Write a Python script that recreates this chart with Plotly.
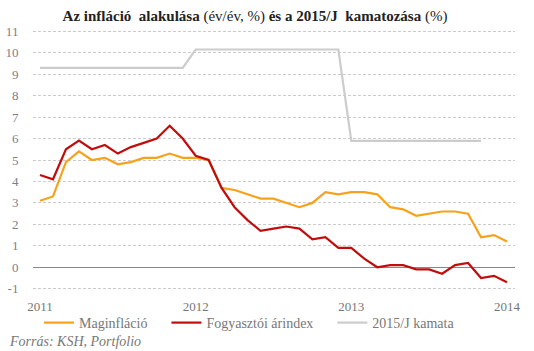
import plotly.graph_objects as go

months = list(range(37))  # Nov 2011 .. Nov 2014 (monthly index)
tick_positions = [0, 12, 24, 36]
tick_labels = ["2011", "2012", "2013", "2014"]

maginflacio = [3.1, 3.3, 4.9, 5.4, 5.0, 5.1, 4.8, 4.9, 5.1, 5.1, 5.3, 5.1, 5.1, 5.0,
               3.7, 3.6, 3.4, 3.2, 3.2, 3.0, 2.8, 3.0, 3.5, 3.4, 3.5, 3.5, 3.4, 2.8,
               2.7, 2.4, 2.5, 2.6, 2.6, 2.5, 1.4, 1.5, 1.2]
fogyasztoi = [4.3, 4.1, 5.5, 5.9, 5.5, 5.7, 5.3, 5.6, 5.8, 6.0, 6.6, 6.0, 5.2, 5.0,
              3.7, 2.8, 2.2, 1.7, 1.8, 1.9, 1.8, 1.3, 1.4, 0.9, 0.9, 0.4, 0.0, 0.1,
              0.1, -0.1, -0.1, -0.3, 0.1, 0.2, -0.5, -0.4, -0.7]
kamata = [9.29] * 12 + [10.15] * 12 + [5.89] * 11

W, H = 534, 351
L, R = 33, 515
T, B = 26.7, 292.6

FONT = "Liberation Serif"
PAD = "\u00a0" * 4

fig = go.Figure()
fig.add_trace(go.Scatter(x=months, y=maginflacio, mode="lines", name="Maginfláció" + PAD,
                         line=dict(color="#f7a21b", width=2.2)))
fig.add_trace(go.Scatter(x=months, y=fogyasztoi, mode="lines", name="Fogyasztói árindex" + PAD,
                         line=dict(color="#c00d0d", width=2.2)))
fig.add_trace(go.Scatter(x=months[:len(kamata)], y=kamata, mode="lines", name="2015/J kamata",
                         line=dict(color="#cccccc", width=2.2)))

fig.update_layout(
    width=W, height=H,
    margin=dict(l=L, r=W - R, t=T, b=H - B, pad=0, autoexpand=False),
    paper_bgcolor="white", plot_bgcolor="white",
    font=dict(family=FONT, color="#777777", size=13),
    title=dict(
        text="<b>Az infláció  alakulása</b> (év/év, %) <b>és a 2015/J  kamatozása</b> (%)",
        x=255 / W, xanchor="center", xref="container",
        y=1 - 16 / H, yanchor="middle", yref="container",
        font=dict(family=FONT, size=15, color="#222222"),
    ),
    xaxis=dict(
        range=[-0.54, 36.62],
        tickmode="array", tickvals=tick_positions, ticktext=tick_labels,
        showgrid=False, zeroline=False, showline=False,
        ticks="outside", ticklen=1, tickcolor="rgba(0,0,0,0)",
        tickfont=dict(family=FONT, size=13, color="#777777"),
        fixedrange=True,
    ),
    yaxis=dict(
        range=[-1.2, 11.2],
        tickmode="array", tickvals=list(range(-1, 12)),
        ticktext=[str(v) for v in range(-1, 12)],
        showgrid=True, gridcolor="#cccccc", gridwidth=1, griddash="3px,2px",
        zeroline=True, zerolinecolor="#888888", zerolinewidth=1,
        showline=False,
        ticks="outside", ticklen=11, tickcolor="rgba(0,0,0,0)",
        tickfont=dict(family=FONT, size=13, color="#7a8090"),
    ),
    legend=dict(
        orientation="h", x=(39 - L) / (R - L), xanchor="left", xref="paper",
        y=1 - 323 / H, yanchor="middle", yref="container",
        font=dict(family=FONT, size=14, color="#777777"),
        bgcolor="rgba(0,0,0,0)", itemwidth=30, tracegroupgap=0,
    ),
    showlegend=True,
)

fig.add_annotation(
    text="<i>Forrás: KSH, Portfolio</i>",
    xref="paper", yref="paper",
    x=(7 - L) / (R - L), xanchor="left",
    y=(B - 341) / (B - T), yanchor="middle",
    showarrow=False, font=dict(family=FONT, size=14, color="#777777"),
)

fig.write_html("out.html")
